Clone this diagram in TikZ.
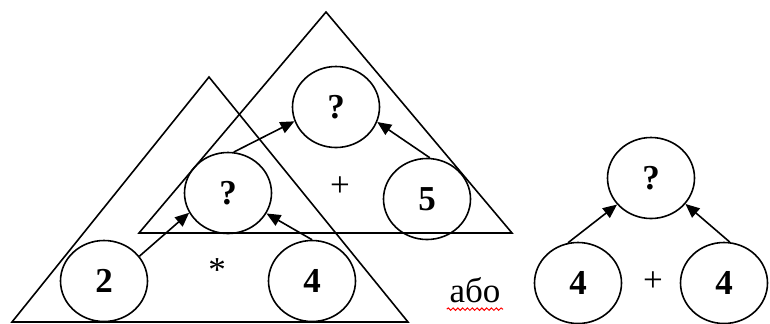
\documentclass[tikz,border=0pt]{standalone}
\usepackage{fontspec}
\setmainfont{Liberation Serif}
\usetikzlibrary{shapes.geometric,arrows.meta,decorations.pathmorphing}

\begin{document}
\begin{tikzpicture}[
    x=0.5pt, y=-0.5pt,
    line width=0.8pt,
    font=\fontsize{17.5}{20}\selectfont,
    operand/.style={
      ellipse,
      draw,
      minimum width=43.5pt,
      minimum height=40.5pt,
      inner sep=0pt,
      font=\fontsize{17.5}{20}\selectfont\bfseries,
    },
    link/.style={-{Triangle[length=7pt,width=6pt]}},
  ]
    \useasboundingbox (0,0) rectangle (770,323);

    % product triangle and sum triangle
    \draw (209,77) -- (408,322) -- (12,322) -- cycle;
    \draw (326,12) -- (512,233) -- (139,233) -- cycle;

    % left tree
    \node[operand] (Two) at (104,281) {2};
    \node[operand] (FourL) at (312,281) {4};
    \node[operand] (Prod) at (228,193) {?};
    \node[operand] (Five) at (427,199) {5};
    \node[operand] (Sum) at (336,107) {?};
    \node (Times) at (217,270) {*};
    \node (Plus) at (340,187) {+};

    \draw[link] (Two.35) -- (Prod.207);
    \draw[link] (FourL.north) -- (Prod.332);
    \draw[link] (Prod.82) -- (Sum.199);
    \draw[link] (Five.86) -- (Sum.340);

    % or
    \node[anchor=base, inner xsep=1pt, inner ysep=3pt] (Ili) at (475,302) {або};
    \draw[red, line width=0.5pt, decorate,
      decoration={snake, amplitude=0.6pt, segment length=2.4pt}]
      (Ili.south west) -- (Ili.south east);

    % right tree
    \node[operand] (SumR) at (651,178) {?};
    \node[operand] (FourA) at (578,283) {4};
    \node[operand] (FourB) at (724,283) {4};
    \node (PlusR) at (653,282) {+};

    \draw[link] (FourA.104) -- (SumR.218);
    \draw[link] (FourB.82) -- (SumR.323);
\end{tikzpicture}
\end{document}
